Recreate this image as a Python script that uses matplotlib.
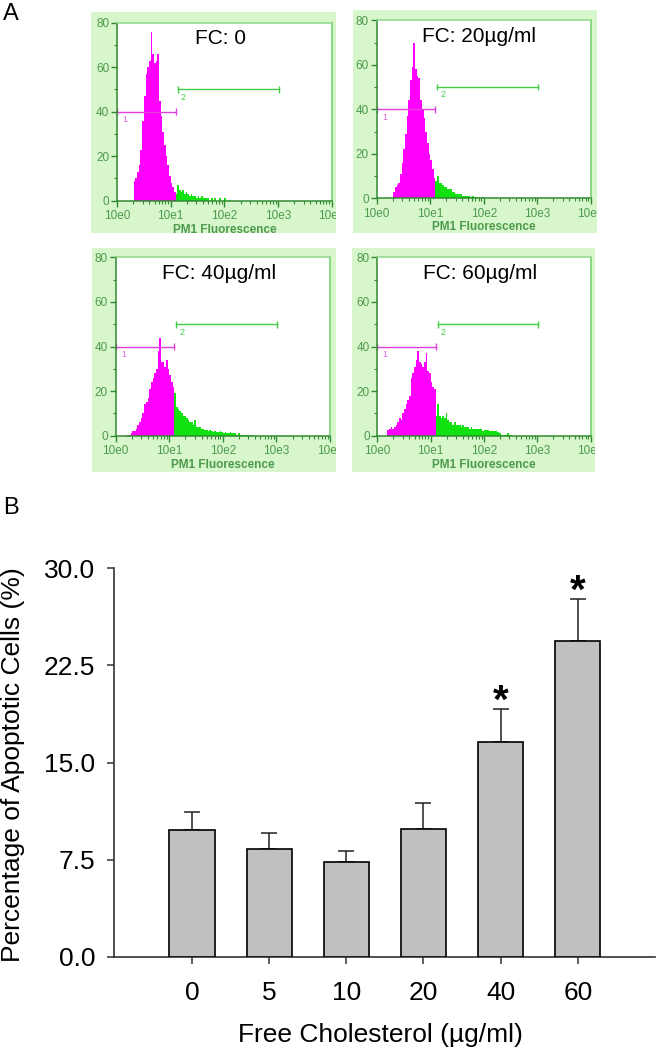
import numpy as np
import matplotlib
matplotlib.use("Agg")
import matplotlib.pyplot as plt
from matplotlib.ticker import FixedLocator, NullFormatter

plt.rcParams['font.family'] = ['Liberation Sans', 'DejaVu Sans']

# ---- panel A: flow cytometry histograms (counts per 1/32 decade channel) ----
bins_per_decade = 32
gate1 = (1.0, 10 ** 1.094)
gate2 = (10 ** 1.13, 10 ** 3.02)

titles = ["FC: 0", "FC: 20µg/ml", "FC: 40µg/ml", "FC: 60µg/ml"]

fc0_start = 10
fc0_counts = [9, 10, 13, 16, 23, 36, 47, 57, 60, 63, 76, 66, 62, 63, 66, 45, 38, 31, 25, 20,
              16, 11, 8, 6, 4,
              3, 7, 5, 4, 5, 3, 4, 3, 2, 3, 2, 2, 1, 2, 1, 2, 1, 1, 1, 1, 0, 1, 0, 1, 0,
              0, 1, 0, 0, 1, 0, 0, 0.5]

fc20_start = 10
fc20_counts = [3, 5, 6, 7, 11, 16, 22, 29, 37, 44, 53, 59, 70, 58, 55, 54, 44, 40, 36, 30,
               25, 20, 17, 13, 9,
               8, 10, 7, 7, 6, 5, 5, 4, 4, 4, 3, 3, 2, 2, 2, 2, 1, 1, 1, 1, 1, 0.5, 1, 0, 0.5,
               0, 0.5, 0, 0.5]

fc40_start = 7
fc40_counts = [0.5, 0.5, 1, 2, 2, 3, 5, 6, 8, 10, 14, 15, 17, 21, 24, 26, 28, 30, 38, 44,
               33, 33, 31, 34, 30, 27, 24, 22,
               19, 13, 12, 11, 10, 9, 9, 8, 7, 6, 6, 5, 7, 4, 4, 4, 3, 3, 2.5, 2.5, 2, 2.5,
               2, 1.5, 2, 1.5, 1.5, 2, 1.5, 1, 1.5, 1, 1, 1.5, 1, 1, 1, 0.5, 1, 0.5, 0.5, 0.5,
               0.5, 0.5, 0.5, 0, 0.5]

fc60_start = 6
fc60_counts = [2.5, 3, 4, 3, 4, 5, 6, 8, 7, 10, 12, 14, 16, 18, 26, 28, 31, 34, 38, 33,
               32, 31, 33, 37, 29, 28, 24, 22, 21,
               9, 14, 9, 8, 9, 8, 10, 7, 6, 6, 5, 6, 5, 5, 5, 4, 5, 4, 4, 4,
               3, 4, 3, 3, 3, 3, 3, 3, 2, 2.5, 2.5, 2.5, 2, 2, 2, 2, 2, 1.5, 1, 0.5,
               0.5, 0.5, 0.5, 1, 0.5, 0.5]

starts = [fc0_start, fc20_start, fc40_start, fc60_start]
counts = [fc0_counts, fc20_counts, fc40_counts, fc60_counts]

# ---- panel B: bar chart ----
concentrations = ["0", "5", "10", "20", "40", "60"]
apoptotic_mean = [9.8, 8.3, 7.3, 9.9, 16.6, 24.4]
apoptotic_err = [1.4, 1.3, 0.9, 2.0, 2.5, 3.2]
significant = [False, False, False, False, True, True]

W, H = 657, 1049
fig = plt.figure(figsize=(W / 100, H / 100), dpi=100)


def px_axes(x0, y0, x1, y1):
    return fig.add_axes([x0 / W, 1 - y1 / H, (x1 - x0) / W, (y1 - y0) / H])


boxes = [(91, 12, 336, 233), (353, 10, 597, 233), (92, 248, 336, 472), (352, 248, 595, 472)]
areas = [(117, 22.7, 331.7, 200.7), (376.7, 20.3, 590.7, 198.3),
         (115.7, 257.3, 330, 435.7), (377.3, 257.3, 590.7, 435.7)]

dark_green = "#2f8a2f"
label_green = "#4c9a4c"
for box, area, title, k0, vals in zip(boxes, areas, titles, starts, counts):
    bg = px_axes(*box)
    bg.set_facecolor("#d8f6cc")
    bg.set_xticks([])
    bg.set_yticks([])
    for s in bg.spines.values():
        s.set_visible(False)

    ax = px_axes(*area)
    ax.set_xscale("log")
    vals = np.array(vals, dtype=float)
    edges = 10 ** (np.arange(k0, k0 + len(vals) + 1) / bins_per_decade)
    cut = int(round(np.log10(gate1[1]) * bins_per_decade)) - k0
    ax.stairs(vals[:cut], edges[:cut + 1], fill=True, color="#ff00ff", lw=0)
    ax.stairs(vals[cut:], edges[cut:], fill=True, color="#11e011", lw=0)

    # gate markers
    ax.plot(gate1, [40, 40], color="#e040e0", lw=1)
    ax.vlines(gate1, 38.5, 41.5, color="#e040e0", lw=1)
    ax.text(1.25, 38.5, "1", color="#e060e0", fontsize=6.5, va="top")
    ax.plot(gate2, [50, 50], color="#44cc44", lw=1)
    ax.vlines(gate2, 48.5, 51.5, color="#44cc44", lw=1)
    ax.text(15.5, 48.5, "2", color="#44cc44", fontsize=6.5, va="top")

    ax.text(0.48, 0.91, title, transform=ax.transAxes, ha="center", va="center",
            fontsize=15, color="black")

    ax.set_xlim(1, 1e4)
    ax.set_ylim(0, 80)
    ax.set_xticks([1, 10, 100, 1000, 10000])
    ax.set_xticklabels(["10e0", "10e1", "10e2", "10e3", "10e4"])
    ax.xaxis.set_minor_locator(FixedLocator(
        [m * 10 ** d for d in range(4) for m in range(2, 10)]))
    ax.xaxis.set_minor_formatter(NullFormatter())
    ax.set_yticks([0, 20, 40, 60, 80])
    ax.yaxis.set_minor_locator(FixedLocator([10, 30, 50, 70]))
    ax.tick_params(which="major", direction="out", length=4, width=1, color=dark_green,
                   labelcolor=label_green, labelsize=8.5, pad=1.5)
    ax.tick_params(axis="x", which="major", pad=3)
    ax.tick_params(which="minor", direction="out", length=2.5, width=0.8, color=dark_green)
    ax.set_xlabel("PM1 Fluorescence", fontsize=8.5, fontweight="bold", color=label_green,
                  labelpad=1)
    # the last decade label is cut by the green frame, as in the original
    for lbl in ax.get_xticklabels():
        lbl.set_clip_box(bg.bbox)
        lbl.set_clip_on(True)
    ax.spines["left"].set_color(dark_green)
    ax.spines["bottom"].set_color(dark_green)
    ax.spines["top"].set_color("#8fd88a")
    ax.spines["right"].set_color("#6fcf6a")
    for s in ax.spines.values():
        s.set_linewidth(1.1)

# ---- bar chart ----
bx = px_axes(114, 568, 655, 957)
x = np.arange(len(concentrations))
bx.bar(x, apoptotic_mean, width=0.585, color="#c0c0c0", edgecolor="black", linewidth=1.2,
       zorder=3)
bx.errorbar(x, apoptotic_mean, yerr=[np.zeros(len(x)), apoptotic_err], fmt="none",
            ecolor="#222222", elinewidth=1.1, capsize=6, capthick=1.1, zorder=2)
for xi, m, e, sig in zip(x, apoptotic_mean, apoptotic_err, significant):
    if sig:
        bx.text(xi, m + e + 0.6, "*", ha="center", va="center", fontsize=29,
                fontweight="bold")

bx.set_xlim(-1.01, 6.0)
bx.set_ylim(0, 30)
bx.set_xticks(x)
bx.set_xticklabels(concentrations)
bx.set_yticks([0, 7.5, 15, 22.5, 30])
bx.set_yticklabels(["0.0", "7.5", "15.0", "22.5", "30.0"])
bx.tick_params(direction="out", length=5, width=1.1, color="#333333", labelsize=19)
bx.tick_params(axis="x", pad=12)
bx.tick_params(axis="y", pad=8.5)
bx.spines["top"].set_visible(False)
bx.spines["right"].set_visible(False)
for s in ["left", "bottom"]:
    bx.spines[s].set_color("#333333")
    bx.spines[s].set_linewidth(1.2)
bx.set_ylabel("Percentage of Apoptotic Cells (%)", fontsize=19, va="center")
bx.yaxis.set_label_coords(-0.1876, 0.494)
bx.set_xlabel("Free Cholesterol (µg/ml)", fontsize=19, va="center")
bx.xaxis.set_label_coords(0.4926, -0.2005)

fig.text(3 / W, 1 - 3 / H, "A", fontsize=17, va="top", ha="left")
fig.text(3 / W, 1 - 497 / H, "B", fontsize=17, va="top", ha="left")

fig.savefig("out.png", dpi=100)
